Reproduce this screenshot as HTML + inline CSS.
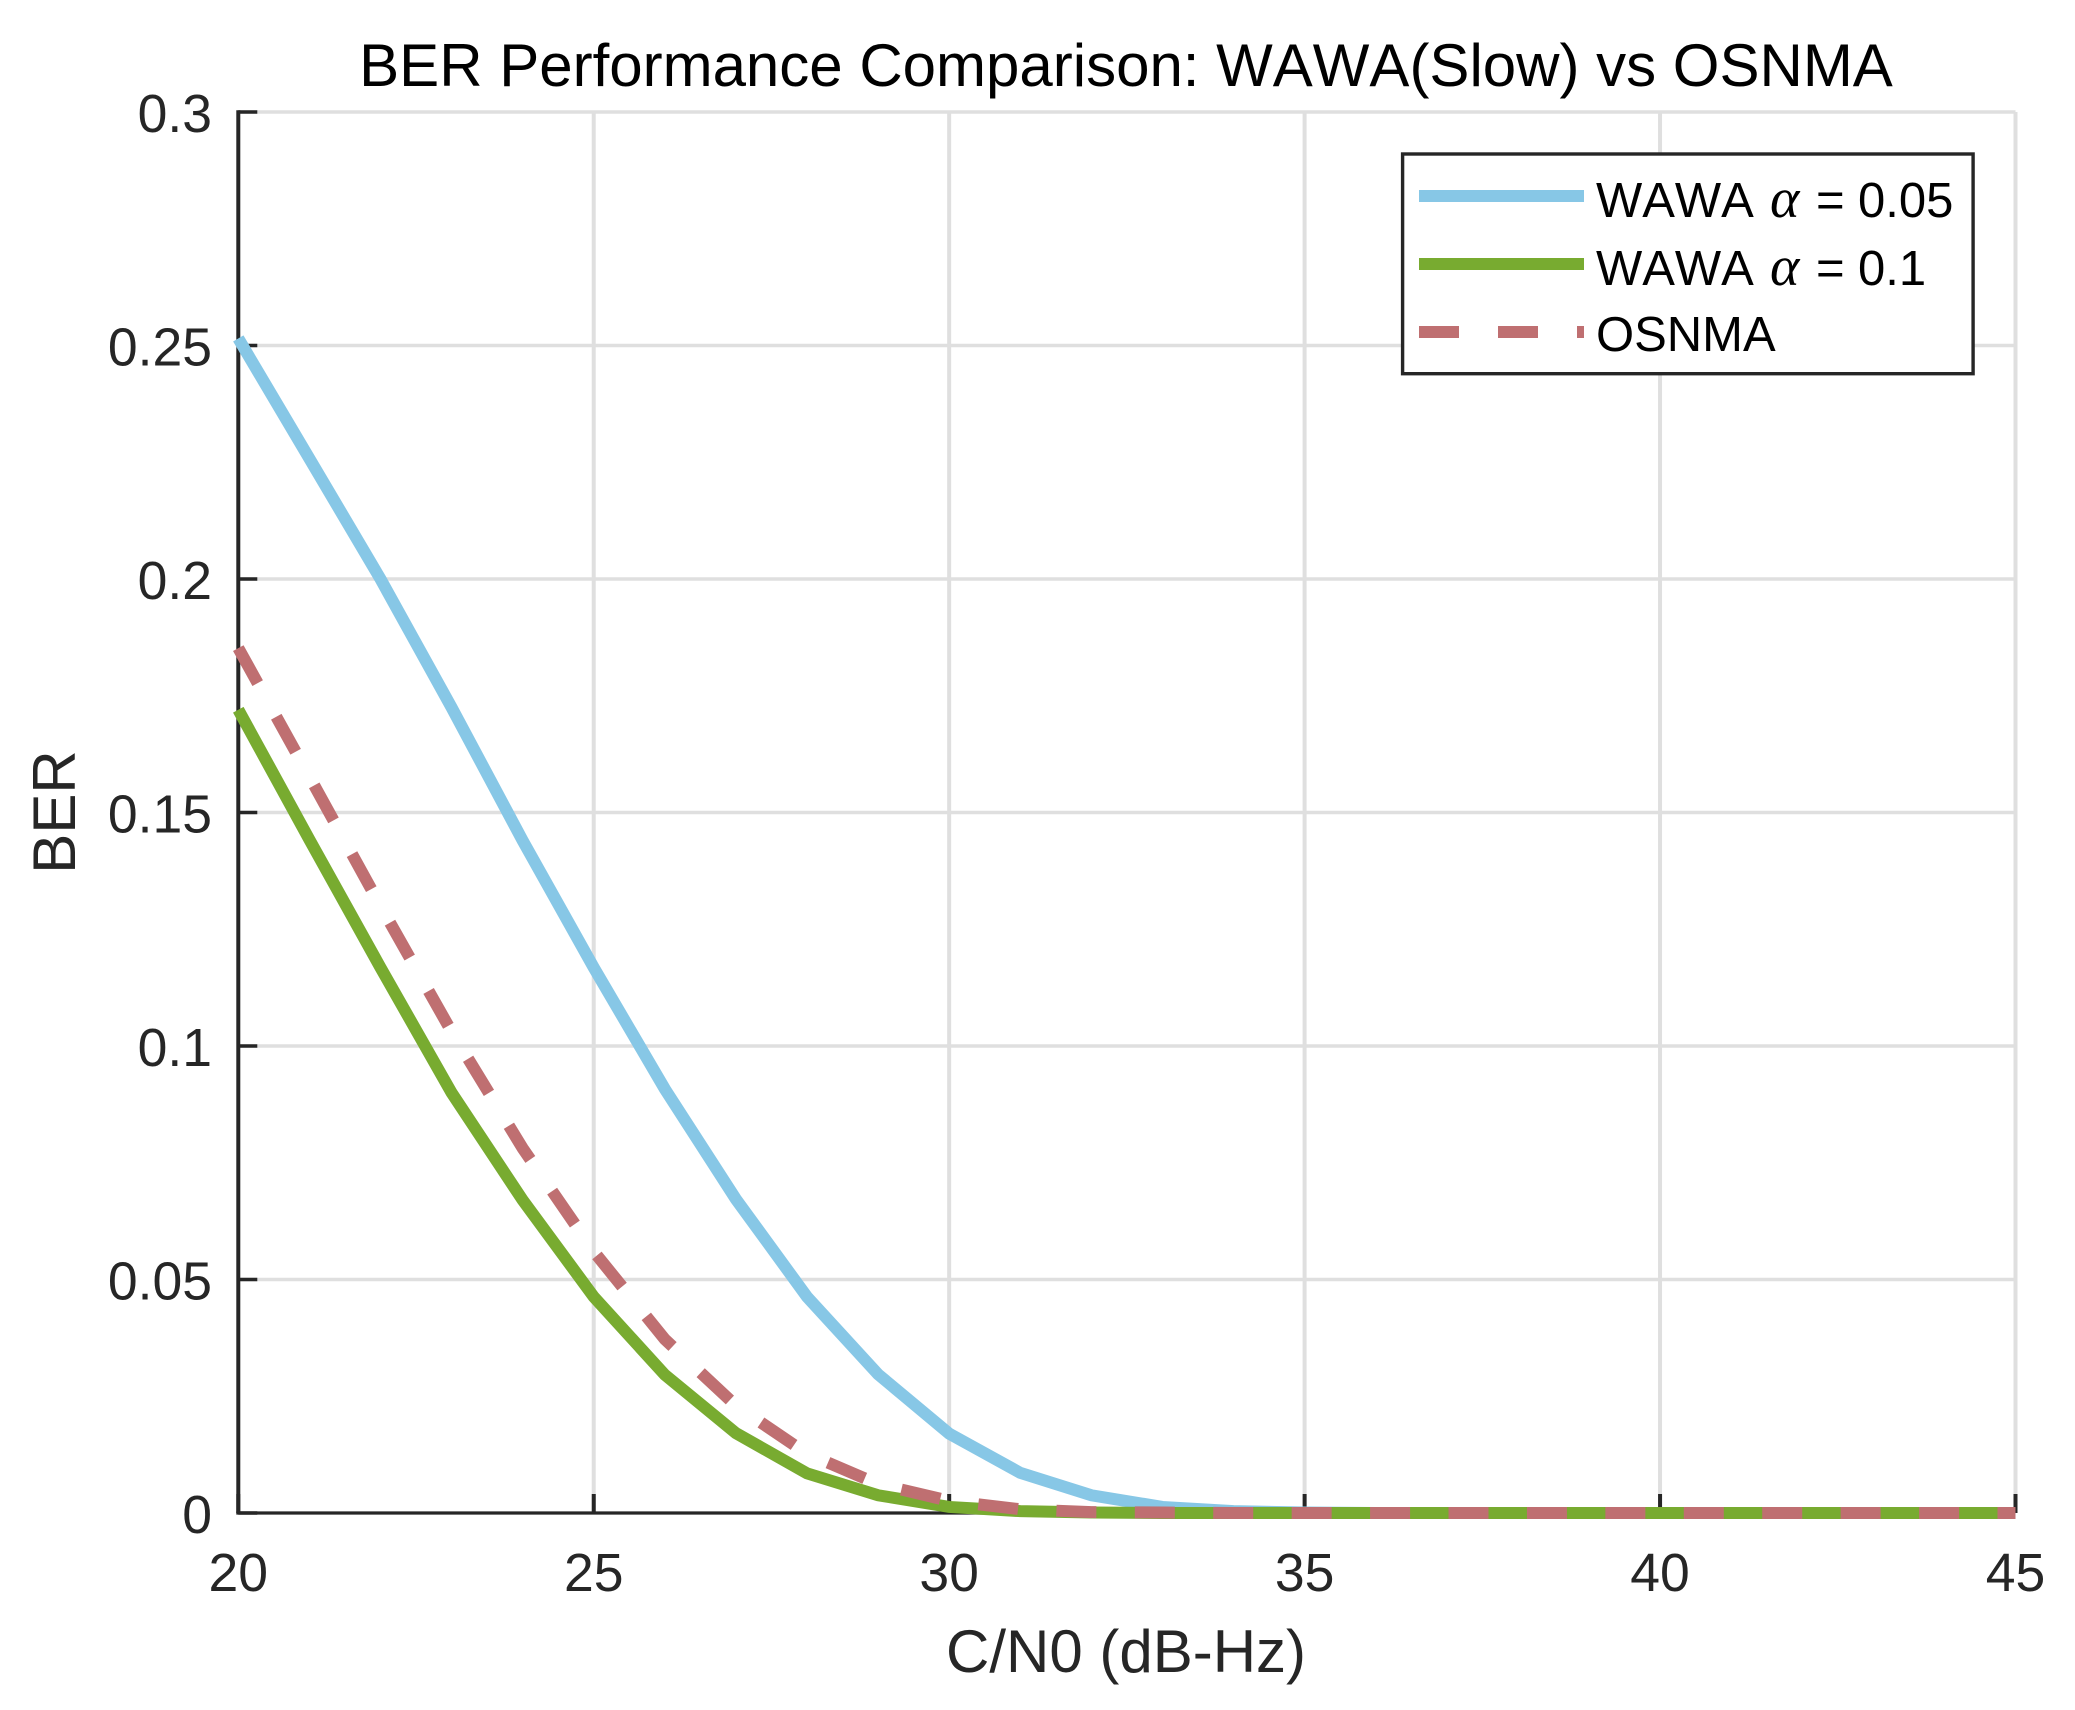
<!DOCTYPE html>
<html>
<head>
<meta charset="utf-8">
<title>BER Performance Comparison</title>
<style>
html,body{margin:0;padding:0;background:#fff;}
svg{display:block;}
text{font-family:"Liberation Sans",Arial,sans-serif;font-kerning:none;}
</style>
</head>
<body>
<svg id="chart" xmlns="http://www.w3.org/2000/svg" width="2075" height="1710" viewBox="0 0 2075 1710">
  <rect x="0" y="0" width="2075" height="1710" fill="#ffffff"/>
  <g id="grid"></g>
  <g id="axes"></g>
  <g id="series"></g>
  <text x="1126" y="86" text-anchor="middle" font-size="60" fill="#000">BER Performance Comparison: WAWA(Slow) vs OSNMA</text>
  <text x="1126" y="1672" text-anchor="middle" font-size="60" fill="#262626">C/N0 (dB-Hz)</text>
  <text transform="translate(75,812) rotate(-90)" text-anchor="middle" font-size="60" fill="#262626">BER</text>
  <g>
    <rect x="1402.6" y="154" width="570.5" height="219.7" fill="#fff" stroke="#262626" stroke-width="3.4"/>
    <line x1="1419" x2="1584" y1="196" y2="196" stroke="#87c7e6" stroke-width="12"/>
    <line x1="1419" x2="1584" y1="264" y2="264" stroke="#78ab30" stroke-width="12"/>
    <line x1="1419" x2="1584" y1="332" y2="332" stroke="#bf6f71" stroke-width="12" stroke-dasharray="40 39"/>
    <text y="217" font-size="49" fill="#000"><tspan x="1596">WAWA</tspan><tspan x="1770" font-size="56" font-family="'Liberation Serif',serif" font-style="italic">α</tspan><tspan x="1816">=</tspan><tspan x="1858">0.05</tspan></text>
    <text y="285" font-size="49" fill="#000"><tspan x="1596">WAWA</tspan><tspan x="1770" font-size="56" font-family="'Liberation Serif',serif" font-style="italic">α</tspan><tspan x="1816">=</tspan><tspan x="1858">0.1</tspan></text>
    <text x="1596" y="351" font-size="49" fill="#000">OSNMA</text>
  </g>
</svg>
<script>
const xValues = [20,21,22,23,24,25,26,27,28,29,30,31,32,33,34,35,36,37,38,39,40,41,42,43,44,45];
const berWawa005 = [0.2515,0.2258,0.2000,0.1725,0.1440,0.1168,0.0908,0.0672,0.0463,0.0297,0.0170,0.0086,0.0038,0.0013,0.0004,0.0001,0,0,0,0,0,0,0,0,0,0];
const berWawa01 = [0.1720,0.1442,0.1168,0.0900,0.0670,0.0463,0.0296,0.0171,0.0085,0.0038,0.0013,0.0004,0.0001,0,0,0,0,0,0,0,0,0,0,0,0,0];
const berOsnma = [0.1852,0.1577,0.1300,0.1031,0.0781,0.0560,0.0372,0.0230,0.0127,0.0062,0.0026,0.0008,0.0002,0.0001,0,0,0,0,0,0,0,0,0,0,0,0];
const xTickValues = [20,25,30,35,40,45];
const xTickLabels = ["20","25","30","35","40","45"];
const yTickValues = [0,0.05,0.1,0.15,0.2,0.25,0.3];
const yTickLabels = ["0","0.05","0.1","0.15","0.2","0.25","0.3"];

const NS = 'http://www.w3.org/2000/svg';
const plotLeft = 238.3, plotRight = 2015.5, plotTop = 112, plotBottom = 1513;
function xScale(v){ return plotLeft + (v - 20) / (45 - 20) * (plotRight - plotLeft); }
function yScale(v){ return plotBottom - v / 0.3 * (plotBottom - plotTop); }
function make(tag, attrs){
  const el = document.createElementNS(NS, tag);
  for (const k in attrs) el.setAttribute(k, attrs[k]);
  return el;
}
const gridG = document.getElementById('grid');
const axesG = document.getElementById('axes');
const seriesG = document.getElementById('series');

xTickValues.forEach(function(v, i){
  if (i > 0) {
    const g = make('line', {x1:xScale(v), x2:xScale(v), y1:plotTop, y2:plotBottom, stroke:'#dfdfdf', 'stroke-width':4});
    
    
    gridG.appendChild(g);
  }
  const t = make('line', {x1:xScale(v), x2:xScale(v), y1:plotBottom, y2:plotBottom-19, stroke:'#262626', 'stroke-width':4});
  
  
  axesG.appendChild(t);
  const l = make('text', {x:xScale(v), y:plotBottom+78, 'text-anchor':'middle', 'font-size':53.5, fill:'#262626'});
  l.textContent = xTickLabels[i];
  
  
  axesG.appendChild(l);
});
yTickValues.forEach(function(v, i){
  if (i > 0) {
    const g = make('line', {x1:plotLeft, x2:plotRight, y1:yScale(v), y2:yScale(v), stroke:'#dfdfdf', 'stroke-width':3.4});
    
    
    gridG.appendChild(g);
  }
  const t = make('line', {x1:plotLeft, x2:plotLeft+19, y1:yScale(v), y2:yScale(v), stroke:'#262626', 'stroke-width':3.4});
  
  
  axesG.appendChild(t);
  const l = make('text', {x:212, y:yScale(v)+20, 'text-anchor':'end', 'font-size':53.5, fill:'#262626'});
  l.textContent = yTickLabels[i];
  
  
  axesG.appendChild(l);
});
const xAxisLine = make('line', {x1:plotLeft-2, x2:plotRight, y1:plotBottom, y2:plotBottom, stroke:'#262626', 'stroke-width':3.2});


axesG.appendChild(xAxisLine);
const yAxisLine = make('line', {x1:plotLeft, x2:plotLeft, y1:plotTop-1.7, y2:plotBottom, stroke:'#262626', 'stroke-width':4});


axesG.appendChild(yAxisLine);

function linePoints(values){
  return values.map(function(v, i){ return xScale(xValues[i]).toFixed(2) + ',' + yScale(v).toFixed(2); }).join(' ');
}
const lineBlue = make('polyline', {points:linePoints(berWawa005), fill:'none', stroke:'#87c7e6', 'stroke-width':12, 'stroke-linejoin':'miter'});


seriesG.appendChild(lineBlue);
const lineGreen = make('polyline', {points:linePoints(berWawa01), fill:'none', stroke:'#78ab30', 'stroke-width':12, 'stroke-linejoin':'miter'});


seriesG.appendChild(lineGreen);
const linePink = make('polyline', {points:linePoints(berOsnma), fill:'none', stroke:'#bf6f71', 'stroke-width':12, 'stroke-linejoin':'miter'});


seriesG.appendChild(linePink);
const pinkLength = linePink.getTotalLength();
const dashCount = Math.round((pinkLength - 18) / 78.7);
const dashPeriod = (pinkLength - 18) / dashCount;
linePink.setAttribute('stroke-dasharray', (dashPeriod * 0.51).toFixed(3) + ' ' + (dashPeriod * 0.49).toFixed(3));
</script>
</body>
</html>
